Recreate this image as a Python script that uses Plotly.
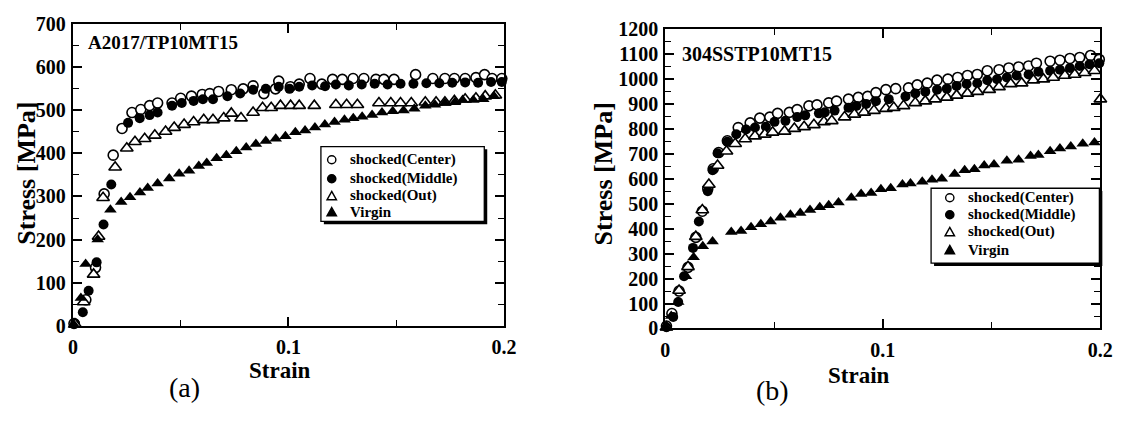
import plotly.graph_objects as go

W, H = 1136, 421

# ---- (a) A2017/TP10MT15 : strain [-], stress [MPa] ----
a_center_strain = [0.0005, 0.006, 0.0105, 0.0145, 0.0187, 0.0228, 0.0274, 0.0315, 0.0356, 0.0393,
                   0.046, 0.050, 0.055, 0.060, 0.0635, 0.0676, 0.0735, 0.079, 0.0836, 0.0886,
                   0.094, 0.0955, 0.1009, 0.105, 0.110, 0.1155, 0.1205, 0.125, 0.130, 0.135,
                   0.1406, 0.1443, 0.149, 0.159, 0.167, 0.1726, 0.177, 0.182, 0.187, 0.191,
                   0.1945, 0.199]
a_center_stress = [5, 60, 135, 306, 396, 458, 495, 502, 511, 517,
                   517, 528, 533, 537, 539, 544, 548, 550, 557, 539,
                   550, 568, 555, 561, 574, 561, 572, 572, 574, 574,
                   572, 572, 572, 583, 574, 574, 574, 574, 576, 583,
                   574, 574]

a_middle_strain = [0.001, 0.0046, 0.0073, 0.011, 0.0142, 0.0178, 0.0256, 0.031, 0.0356, 0.0393,
                   0.046, 0.0505, 0.056, 0.0603, 0.065, 0.0717, 0.0776, 0.0836, 0.0895, 0.0955,
                   0.1005, 0.105, 0.111, 0.117, 0.122, 0.128, 0.134, 0.140, 0.146, 0.152,
                   0.158, 0.164, 0.170, 0.176, 0.182, 0.188, 0.194, 0.199]
a_middle_stress = [5, 31, 81, 147, 235, 328, 471, 482, 489, 495,
                   511, 517, 522, 526, 526, 533, 539, 548, 550, 555,
                   550, 555, 558, 556, 560, 558, 560, 562, 560, 562,
                   562, 563, 563, 564, 565, 564, 566, 566]

a_out_strain = [0.001, 0.005, 0.0096, 0.0119, 0.014, 0.0196, 0.025, 0.0288, 0.0333, 0.038,
                0.043, 0.047, 0.0516, 0.056, 0.0607, 0.065, 0.070, 0.0735, 0.078, 0.0836,
                0.088, 0.092, 0.0963, 0.101, 0.105, 0.112, 0.122, 0.127, 0.132, 0.142,
                0.1475, 0.152, 0.157, 0.1635, 0.1685, 0.1726, 0.177, 0.182, 0.187, 0.1913,
                0.196]
a_out_stress = [3, 55, 119, 207, 297, 368, 412, 427, 434, 442,
                451, 460, 467, 473, 478, 478, 482, 493, 482, 495,
                506, 506, 511, 511, 511, 511, 513, 513, 513, 517,
                517, 517, 517, 519, 519, 519, 522, 526, 528, 533,
                535]

a_virgin_strain = [0.0005, 0.0037, 0.0059, 0.0115, 0.0174, 0.0224, 0.0265, 0.0311, 0.0347, 0.0393,
                   0.0447, 0.0493, 0.0539, 0.0584, 0.0621, 0.0667, 0.0712, 0.0758, 0.0804, 0.0849,
                   0.0895, 0.0941, 0.0986, 0.1032, 0.1077, 0.1123, 0.1169, 0.1214, 0.126, 0.1301,
                   0.1342, 0.1388, 0.1434, 0.1484, 0.1534, 0.1584, 0.1635, 0.168, 0.1726, 0.1772,
                   0.1808, 0.1858, 0.1904, 0.1954]
a_virgin_stress = [2, 64, 143, 200, 269, 287, 298, 309, 320, 330,
                   342, 353, 360, 371, 378, 389, 396, 405, 414, 422,
                   429, 434, 440, 449, 453, 460, 467, 473, 478, 482,
                   485, 489, 495, 498, 500, 504, 511, 513, 517, 519,
                   524, 524, 526, 533]

# ---- (b) 304SSTP10MT15 ----
b_center_strain = [0.0005, 0.003, 0.0063, 0.0104, 0.014, 0.017, 0.0195, 0.022, 0.0245, 0.0285,
                   0.0335, 0.039, 0.0434, 0.048, 0.0516, 0.057, 0.0606, 0.066, 0.0697, 0.0751,
                   0.0787, 0.0842, 0.0887, 0.093, 0.0968, 0.1014, 0.1059, 0.1118, 0.1158, 0.1204,
                   0.1249, 0.1299, 0.1344, 0.1389, 0.1434, 0.148, 0.1534, 0.1579, 0.1624, 0.167,
                   0.1706, 0.1769, 0.1814, 0.186, 0.1905, 0.1955, 0.1995]
b_center_stress = [10, 60, 150, 245, 365, 470, 560, 640, 705, 752,
                   805, 824, 843, 847, 862, 866, 877, 892, 896, 904,
                   911, 919, 926, 930, 945, 957, 961, 964, 976, 983,
                   995, 999, 1006, 1014, 1018, 1033, 1037, 1044, 1048, 1052,
                   1063, 1071, 1075, 1082, 1086, 1094, 1078]

b_middle_strain = [0.0005, 0.0036, 0.0059, 0.0086, 0.0127, 0.0154, 0.0195, 0.0217, 0.024, 0.0285,
                   0.0326, 0.0371, 0.0412, 0.0462, 0.0502, 0.0552, 0.0606, 0.0643, 0.0706, 0.0733,
                   0.0778, 0.0842, 0.0878, 0.0923, 0.0968, 0.1027, 0.1104, 0.1149, 0.1195, 0.1249,
                   0.1294, 0.1339, 0.1385, 0.1434, 0.148, 0.1525, 0.157, 0.1615, 0.167, 0.1715,
                   0.1769, 0.1814, 0.186, 0.1905, 0.195, 0.1995]
b_middle_stress = [5, 46, 106, 209, 323, 429, 550, 634, 702, 748,
                   778, 797, 805, 808, 828, 832, 847, 854, 862, 866,
                   873, 885, 892, 900, 911, 919, 930, 942, 949, 957,
                   961, 972, 980, 983, 995, 999, 1006, 1014, 1018, 1029,
                   1033, 1037, 1044, 1052, 1059, 1063]

b_out_strain = [0.0005, 0.0063, 0.0104, 0.014, 0.017, 0.02, 0.024, 0.0281, 0.0321, 0.0367,
                0.0412, 0.0457, 0.0493, 0.0548, 0.0593, 0.0638, 0.0683, 0.0729, 0.0765, 0.0824,
                0.0869, 0.0914, 0.0959, 0.1014, 0.105, 0.1095, 0.1149, 0.1195, 0.124, 0.1294,
                0.1339, 0.1389, 0.1434, 0.1489, 0.1534, 0.1588, 0.1638, 0.1692, 0.1738, 0.1783,
                0.1837, 0.1882, 0.1928, 0.1973, 0.2]
b_out_stress = [5, 152, 247, 368, 475, 577, 653, 710, 740, 759,
                771, 778, 786, 790, 801, 808, 816, 828, 832, 847,
                858, 866, 873, 881, 885, 892, 904, 911, 919, 926,
                934, 942, 949, 957, 968, 980, 983, 995, 999, 1006,
                1014, 1018, 1025, 1033, 919]

b_virgin_strain = [0.0005, 0.0027, 0.0059, 0.0095, 0.013, 0.0172, 0.0217,
                   0.0303, 0.0348, 0.0394, 0.0439, 0.0484, 0.0529, 0.0575, 0.062, 0.0665, 0.071,
                   0.0751, 0.0796, 0.0855, 0.09, 0.0946, 0.0991, 0.1036, 0.109, 0.1127, 0.1181,
                   0.1226, 0.1271, 0.133, 0.1376, 0.1421, 0.1466, 0.1511, 0.157, 0.1624, 0.1679,
                   0.1715, 0.1769, 0.1814, 0.1864, 0.1919, 0.1973]
b_virgin_stress = [3, 50, 106, 209, 285, 330, 349,
                   387, 391, 406, 418, 429, 444, 456, 463, 475, 486,
                   494, 505, 524, 539, 543, 558, 562, 577, 581, 588,
                   596, 600, 619, 634, 638, 653, 657, 672, 676, 691,
                   695, 710, 721, 729, 740, 745]

series_names = ["shocked(Center)", "shocked(Middle)", "shocked(Out)", "Virgin"]
a_ticks_y = [0, 100, 200, 300, 400, 500, 600, 700]
b_ticks_y = [0, 100, 200, 300, 400, 500, 600, 700, 800, 900, 1000, 1100, 1200]
x_ticks = [0, 0.1, 0.2]
x_tick_text = ["0", "0.1", "0.2"]

SERIF = "Liberation Serif"
styles = [
    dict(symbol="circle", size=10, color="white", line=dict(color="black", width=1.6)),
    dict(symbol="circle", size=10, color="black", line=dict(color="black", width=0)),
    dict(symbol="triangle-up", size=11, color="white", line=dict(color="black", width=1.6)),
    dict(symbol="triangle-up", size=11, color="black", line=dict(color="black", width=0)),
]


def px(x):
    return x / W


def py(y):
    return 1 - y / H


fig = go.Figure()

panels = [
    ("x", "y", [(a_center_strain, a_center_stress), (a_middle_strain, a_middle_stress),
                (a_out_strain, a_out_stress), (a_virgin_strain, a_virgin_stress)]),
    ("x2", "y2", [(b_center_strain, b_center_stress), (b_middle_strain, b_middle_stress),
                  (b_out_strain, b_out_stress), (b_virgin_strain, b_virgin_stress)]),
]
for xa, ya, data in panels:
    for name, (xs, ys), st in zip(series_names, data, styles):
        fig.add_trace(go.Scatter(x=xs, y=ys, mode="markers", name=name, xaxis=xa, yaxis=ya,
                                 marker=st, cliponaxis=False, showlegend=False))

tickfont = dict(family=SERIF, size=20, color="black", weight="bold")


def xaxis_cfg(x0, x1):
    return dict(domain=[px(x0), px(x1)], range=[0, 0.2], tickvals=x_ticks, ticktext=x_tick_text,
                ticks="inside", ticklen=9, tickwidth=1.5, tickcolor="black",
                minor=dict(dtick=0.05, tick0=0, ticks="inside", ticklen=6, tickwidth=1.2, tickcolor="black"),
                showline=True, linewidth=2.2, linecolor="black", mirror="ticks",
                showgrid=False, zeroline=False, tickfont=tickfont, ticklabelstandoff=2,
                fixedrange=True)


def yaxis_cfg(y0, y1, top, ticks, anchor):
    return dict(domain=[py(y1), py(y0)], range=[0, top], tickvals=ticks, anchor=anchor,
                ticks="inside", ticklen=9, tickwidth=1.5, tickcolor="black",
                minor=dict(dtick=50, tick0=0, ticks="inside", ticklen=6, tickwidth=1.2, tickcolor="black"),
                showline=True, linewidth=2.2, linecolor="black", mirror="ticks",
                showgrid=False, zeroline=False, tickfont=tickfont, ticklabelstandoff=1,
                fixedrange=True)


x1 = xaxis_cfg(69, 507)
x1["anchor"] = "y"
x2 = xaxis_cfg(671, 1113)
x2["anchor"] = "y2"

fig.update_layout(
    width=W, height=H, margin=dict(l=0, r=0, t=0, b=0),
    paper_bgcolor="white", plot_bgcolor="rgba(0,0,0,0)",
    xaxis=x1, yaxis=yaxis_cfg(14, 332, 700, a_ticks_y, "x"),
    xaxis2=x2, yaxis2=yaxis_cfg(19, 335, 1200, b_ticks_y, "x2"),
    showlegend=False,
)

annotations = []
shapes = []


def text(x, y, s, size, bold=True, xanchor="center", angle=0):
    annotations.append(dict(x=px(x), y=py(y), xref="paper", yref="paper", text=s, showarrow=False,
                            xanchor=xanchor, yanchor="middle", textangle=angle,
                            font=dict(family=SERIF, size=size, color="black",
                                      weight="bold" if bold else "normal")))


# panel labels and axis titles
text(82, 33, "A2017/TP10MT15", 19, xanchor="left")
text(686, 45, "304SSTP10MT15", 20, xanchor="left")
text(279, 379, "Strain", 23)
text(868, 385, "Strain", 23)
text(21, 171, "Stress [MPa]", 26, angle=-90)
text(608, 172, "Stress [MPa]", 26, angle=-90)
text(182, 397, "(a)", 28, bold=False)
text(780, 400, "(b)", 28, bold=False)


def legend_box(x0, y0, x1, y1, mx, tx, rows):
    # drop shadow, then the framed white box
    shapes.append(dict(type="rect", xref="paper", yref="paper", x0=px(x0 + 3), x1=px(x1 + 3),
                       y0=py(y1 + 3), y1=py(y0 + 3), fillcolor="black", line=dict(width=0)))
    shapes.append(dict(type="rect", xref="paper", yref="paper", x0=px(x0), x1=px(x1),
                       y0=py(y1), y1=py(y0), fillcolor="white", line=dict(color="black", width=1.3)))
    r = 4.2
    for (name, st, ry) in zip(series_names, styles, rows):
        fill = st["color"]
        if st["symbol"] == "circle":
            shapes.append(dict(type="circle", xref="paper", yref="paper",
                               x0=px(mx - r), x1=px(mx + r), y0=py(ry + r), y1=py(ry - r),
                               fillcolor=fill, line=dict(color="black", width=1.4)))
        else:
            path = "M {:.5f},{:.5f} L {:.5f},{:.5f} L {:.5f},{:.5f} Z".format(
                px(mx), py(ry - r - 0.5), px(mx + r + 0.6), py(ry + r), px(mx - r - 0.6), py(ry + r))
            shapes.append(dict(type="path", xref="paper", yref="paper", path=path,
                               fillcolor=fill, line=dict(color="black", width=1.4)))
        text(tx, ry, name, 15, xanchor="left")


legend_box(321, 143, 487, 222, 332, 349, [157, 177, 195, 212])
legend_box(941, 187, 1112, 266, 960, 976, [197, 215, 233, 252])

fig.update_layout(annotations=annotations, shapes=shapes)
fig.write_html("out.html")
